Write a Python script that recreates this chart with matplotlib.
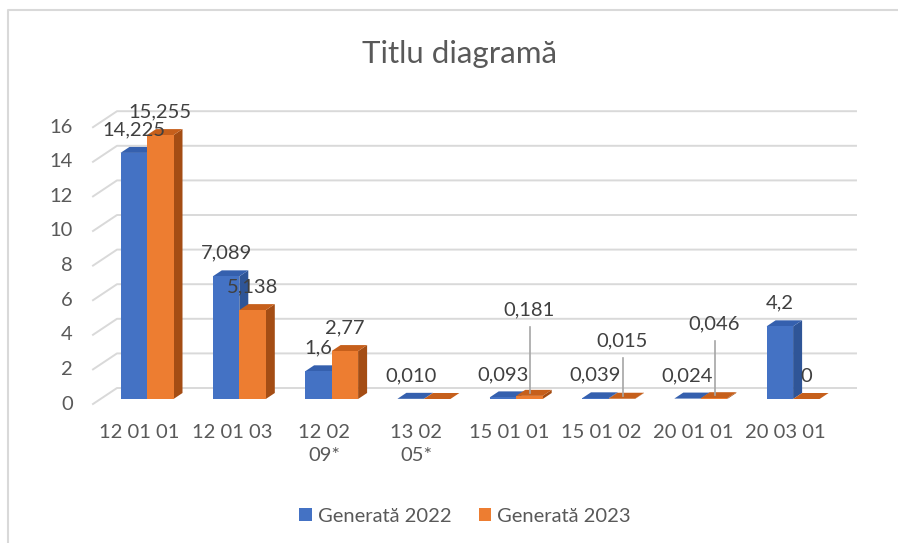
import matplotlib.pyplot as plt
from matplotlib.patches import Polygon, Patch
from matplotlib.lines import Line2D

plt.rcParams['font.family'] = ['Lato', 'DejaVu Sans']

# Données
categories = ['12 01 01', '12 01 03', '12 02\n09*', '13 02\n05*',
              '15 01 01', '15 01 02', '20 01 01', '20 03 01']
gen_2022 = [14.225, 7.089, 1.6, 0.010, 0.093, 0.039, 0.024, 4.2]
gen_2023 = [15.255, 5.138, 2.77, 0.0, 0.181, 0.015, 0.046, 0.0]
labels_2022 = ['14,225', '7,089', '1,6', '0,010', '0,093', '0,039', '0,024', '4,2']
labels_2023 = ['15,255', '5,138', '2,77', '', '0,181', '0,015', '0,046', '0']
y_ticks = [0, 2, 4, 6, 8, 10, 12, 14, 16]

# étiquettes déplacées avec ligne de rappel (index -> hauteur du centre)
leader_2023 = {4: 5.14, 5: 3.35, 6: 4.34}

# Couleurs
bleu = ('#4472C4', '#3560AE', '#2F5597')
orange = ('#ED7D31', '#C65F1B', '#A44D14')
gris_txt = '#595959'
gris_lab = '#404040'
gris_grille = '#D9D9D9'
fs = 14.5

W, H = 898, 543
fig = plt.figure(figsize=(W / 100, H / 100), dpi=100)

# zone de tracé (pixels) : x 93..856, y 100..420
ax = fig.add_axes([93 / W, (H - 420) / H, 763 / W, 320 / H])
px_x = 92.3   # pixels par catégorie
px_y = 17.3   # pixels par unité
ax.set_xlim(-54 / px_x, 709 / px_x)
ax.set_ylim(-21 / px_y, 299 / px_y)
ax.axis('off')

bw = 26.5 / px_x
ddx, ddy = 9 / px_x, 6 / px_y          # profondeur des barres
front_dx, front_dy = -7.5 / px_x, -5 / px_y
back_dx, back_dy = 16.5 / px_x, 11 / px_y
x_left, x_right = ax.get_xlim()

# grille 3D
for v in y_ticks:
    xs = [x_left, x_left + 24 / px_x, x_right]
    ys = [v + front_dy, v + back_dy, v + back_dy]
    ax.plot(xs, ys, color=gris_grille, lw=1.4, zorder=1, clip_on=False)
    ax.text(-74 / px_x, v + front_dy, str(v), ha='right', va='center',
            fontsize=fs, color=gris_txt)


def barre_3d(x0, v, couleurs):
    x1 = x0 + bw
    face, dessus, cote = couleurs
    ax.add_patch(Polygon([(x1, 0), (x1 + ddx, ddy), (x1 + ddx, v + ddy), (x1, v)],
                         closed=True, facecolor=cote, edgecolor='none', zorder=3))
    ax.add_patch(Polygon([(x0, v), (x1, v), (x1 + ddx, v + ddy), (x0 + ddx, v + ddy)],
                         closed=True, facecolor=dessus, edgecolor='none', zorder=3))
    ax.bar(x0, v, width=bw, align='edge', color=face, zorder=3, linewidth=0)


for i in range(len(categories)):
    barre_3d(i - bw, gen_2022[i], bleu)
    barre_3d(i, gen_2023[i], orange)

    # étiquettes de données
    ax.text(i - bw / 2, gen_2022[i] + 23 / px_y, labels_2022[i], ha='center',
            va='center', fontsize=fs, color=gris_lab, zorder=5)
    if labels_2023[i]:
        if i in leader_2023:
            yl = leader_2023[i]
            ax.text(i + bw / 2, yl, labels_2023[i], ha='center', va='center',
                    fontsize=fs, color=gris_lab, zorder=5)
            ax.plot([i + bw / 2 + 1 / px_x] * 2, [yl - 17 / px_y, gen_2023[i] + ddy / 2],
                    color='#A6A6A6', lw=1.2, zorder=4)
        else:
            ax.text(i + bw / 2, gen_2023[i] + 23 / px_y, labels_2023[i], ha='center',
                    va='center', fontsize=fs, color=gris_lab, zorder=5)

    ax.text(i + front_dx, -25 / px_y, categories[i], ha='center', va='top',
            fontsize=fs, color=gris_txt, linespacing=1.42)

fig.text(459 / W, 1 - 54 / H, 'Titlu diagramă', ha='center', va='center',
         fontsize=22.5, color=gris_txt)

handles = [Patch(facecolor=bleu[0], label='Generată 2022'),
           Patch(facecolor=orange[0], label='Generată 2023')]
fig.legend(handles=handles, loc='center', bbox_to_anchor=(465 / W, 1 - 516 / H),
           ncol=2, frameon=False, fontsize=fs, labelcolor=gris_txt,
           handlelength=0.62, handleheight=0.62, handletextpad=0.3,
           columnspacing=1.35)

# cadre du graphique
fig.add_artist(Line2D([8 / W, 8 / W, 1], [0, 1 - 10 / H, 1 - 10 / H],
                      color=gris_grille, lw=1.5))

plt.savefig('out.png', dpi=100)
